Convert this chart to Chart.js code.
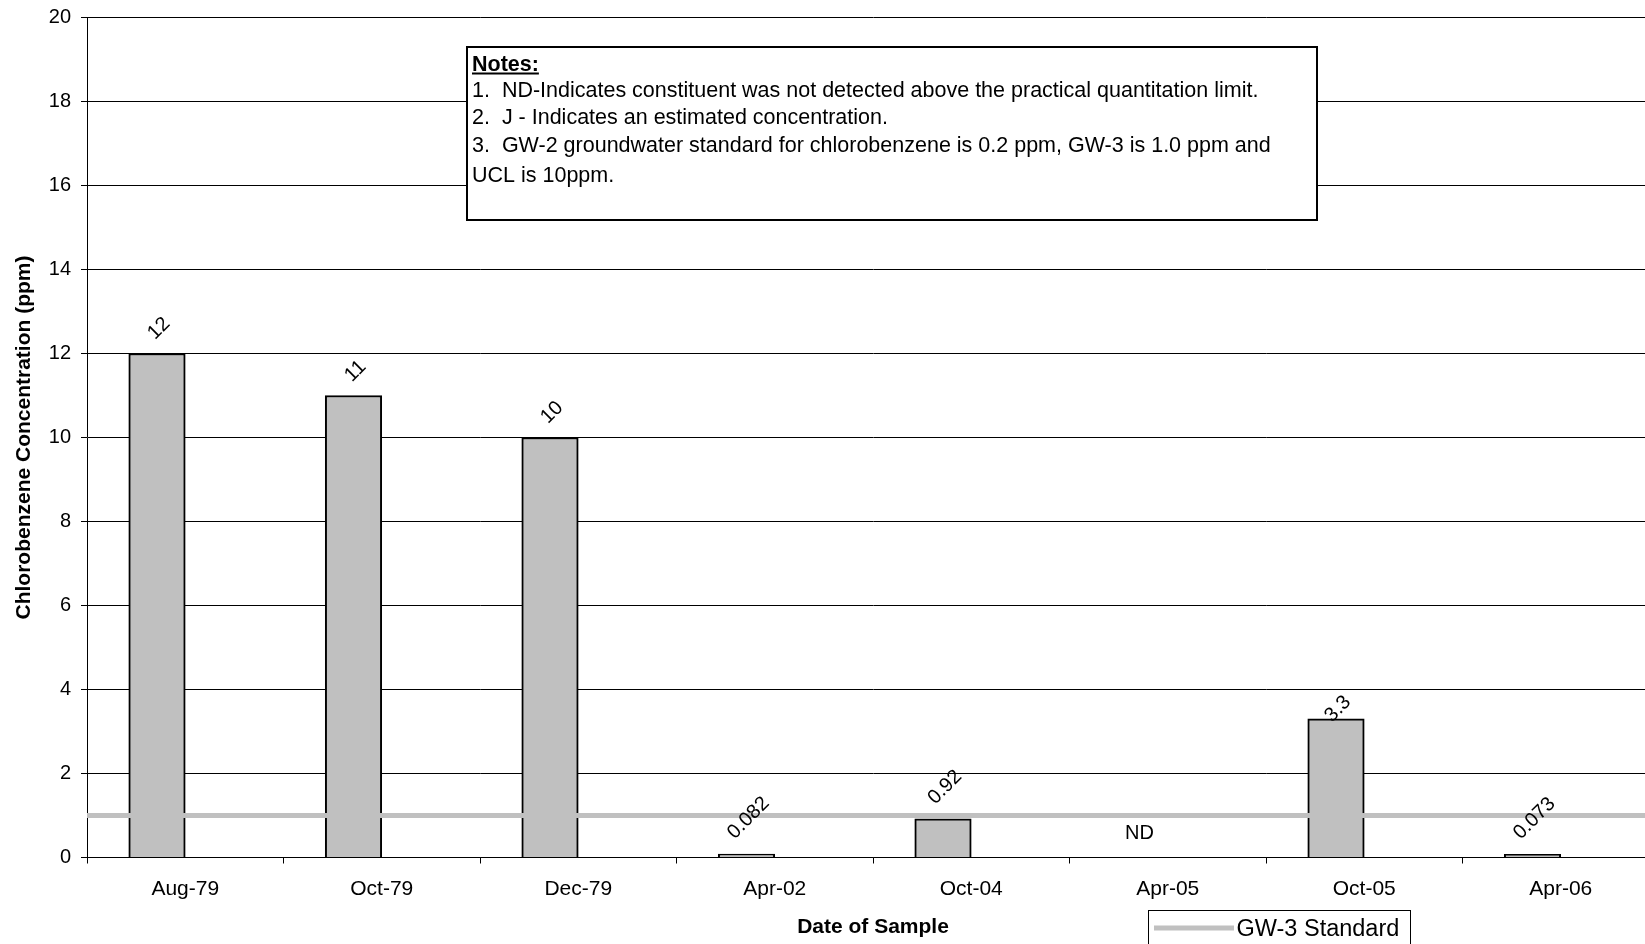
<!DOCTYPE html>
<html><head><meta charset="utf-8">
<script src="https://cdn.jsdelivr.net/npm/chart.js@4.4.1/dist/chart.umd.min.js"></script>
<style>
html,body{margin:0;padding:0;overflow:hidden;background:#fff;width:1645px;height:944px;}
canvas{display:block;}
</style></head><body>
<canvas id="c" width="1665" height="960" style="width:1665px;height:960px"></canvas>
<script>
// ---- data ----
const categories = ['Aug-79','Oct-79','Dec-79','Apr-02','Oct-04','Apr-05','Oct-05','Apr-06'];
const concentrations = [12, 11, 10, 0.082, 0.92, null, 3.3, 0.073];
const valueLabels = ['12','11','10','0.082','0.92','ND','3.3','0.073'];
const emptySeries = [null, null, null, null, null, null, null, null];
const gw3Standard = 1.0;
const yMin = 0, yMax = 20, yStep = 2;
const notesTitle = 'Notes:';
const notesLines = [
  '1.  ND-Indicates constituent was not detected above the practical quantitation limit.',
  '2.  J - Indicates an estimated concentration.',
  '3.  GW-2 groundwater standard for chlorobenzene is 0.2 ppm, GW-3 is 1.0 ppm and',
  'UCL is 10ppm.'
];

// ---- styles ----
const FONT = '"Liberation Sans", Arial, Helvetica, sans-serif';
const GRAY = '#c0c0c0';
const NOTE_BASELINES = [97.2, 123.8, 151.7, 182];

const valueLabelPlugin = {
  id: 'valueLabels',
  afterDatasetsDraw(chart, args, opts) {
    const meta = chart.getDatasetMeta(1);
    const yScale = chart.scales.y;
    const c = chart.ctx;
    c.save();
    c.fillStyle = '#000';
    c.font = '20px ' + FONT;
    c.textAlign = 'center';
    c.textBaseline = 'middle';
    meta.data.forEach((bar, i) => {
      const v = concentrations[i];
      const text = valueLabels[i];
      const x = bar.x;
      const top = yScale.getPixelForValue(v === null ? 0 : v);
      if (v === null) { c.fillText(text, x, top - 24); return; }
      const w = c.measureText(text).width;
      const lift = (opts.lift && opts.lift[i] != null) ? opts.lift[i] : (16 + 0.4 * w);
      c.save();
      c.translate(x + 2, top - lift);
      c.rotate(-Math.PI / 4);
      c.fillText(text, 0, 0);
      c.restore();
    });
    c.restore();
  }
};

const notesPlugin = {
  id: 'notes',
  afterDraw(chart) {
    const c = chart.ctx;
    c.save();
    c.fillStyle = '#fff';
    c.fillRect(467, 47, 850, 173);
    c.strokeStyle = '#000';
    c.lineWidth = 2;
    c.strokeRect(467, 47, 850, 173);
    c.fillStyle = '#000';
    c.textAlign = 'left';
    c.textBaseline = 'alphabetic';
    c.font = 'bold 21.5px ' + FONT;
    c.fillText(notesTitle, 472, 70.7);
    const tw = c.measureText(notesTitle).width;
    c.fillRect(472, 72.5, tw, 2);
    c.font = '21.5px ' + FONT;
    notesLines.forEach((t, i) => c.fillText(t, 472, NOTE_BASELINES[i]));
    c.restore();
  }
};

const boxLegendPlugin = {
  id: 'boxLegend',
  afterDraw(chart) {
    const ds = chart.data.datasets[0];
    const c = chart.ctx;
    c.save();
    c.fillStyle = '#fff';
    c.fillRect(1148.5, 910.5, 262, 60);
    c.strokeStyle = '#000';
    c.lineWidth = 1;
    c.strokeRect(1148.5, 910.5, 262, 60);
    c.strokeStyle = ds.borderColor;
    c.lineWidth = 5;
    c.beginPath();
    c.moveTo(1154, 928);
    c.lineTo(1234, 928);
    c.stroke();
    c.fillStyle = '#000';
    c.font = '23.5px ' + FONT;
    c.textBaseline = 'alphabetic';
    c.fillText(ds.label, 1236.5, 936);
    c.restore();
  }
};

const chart = new Chart(document.getElementById('c').getContext('2d'), {
  type: 'bar',
  data: {
    labels: categories,
    datasets: [
      { type: 'line', label: 'GW-3 Standard',
        data: [{x: 0, y: gw3Standard}, {x: 1, y: gw3Standard}],
        xAxisID: 'xLine', yAxisID: 'y',
        borderColor: GRAY, borderWidth: 5, pointRadius: 0, fill: false, order: 0 },
      { label: 'Chlorobenzene', data: concentrations,
        backgroundColor: GRAY, borderColor: '#000', borderWidth: 2, borderSkipped: 'start',
        barThickness: 56.5, order: 1 },
      { label: '', data: emptySeries,
        backgroundColor: GRAY, borderColor: '#000', borderWidth: 2,
        barThickness: 56.5, order: 2 }
    ]
  },
  options: {
    responsive: false,
    animation: false,
    devicePixelRatio: 1,
    layout: { padding: { top: 17.5, left: 0, right: 6, bottom: 0 } },
    plugins: {
      legend: { display: false },
      tooltip: { enabled: false },
      valueLabels: { lift: [null, null, null, null, null, null, 10, null] }
    },
    scales: {
      x: {
        type: 'category',
        offset: true,
        grid: { display: true, drawOnChartArea: false, drawTicks: true, tickLength: 6, color: '#000', lineWidth: 1, offset: true },
        border: { display: true, color: '#000', width: 1 },
        ticks: { color: '#000', font: { family: FONT, size: 21 }, padding: 13.5, maxRotation: 0, autoSkip: false },
        title: { display: true, text: 'Date of Sample', color: '#000',
                 font: { family: FONT, size: 21, weight: 'bold' }, padding: { top: 0, bottom: 20.4 } },
        afterFit(s) { s.height = 102.5; s.paddingLeft = 0; s.paddingRight = 0; }
      },
      xLine: { type: 'linear', display: false, offset: false, min: 0, max: 1 },
      y: {
        min: yMin, max: yMax,
        ticks: { stepSize: yStep, color: '#000', font: { family: FONT, size: 20 }, padding: 10 },
        grid: { color: '#000', lineWidth: 1, tickLength: 6, drawTicks: true },
        border: { display: true, color: '#000', width: 1 },
        title: { display: true, text: 'Chlorobenzene Concentration (ppm)', color: '#000',
                 font: { family: FONT, size: 21, weight: 'bold' }, padding: { top: 11.4, bottom: 0 } },
        afterFit(s) { s.width = 87; s.paddingTop = 0; s.paddingBottom = 0; }
      }
    }
  },
  plugins: [valueLabelPlugin, notesPlugin, boxLegendPlugin]
});
</script>
</body></html>
